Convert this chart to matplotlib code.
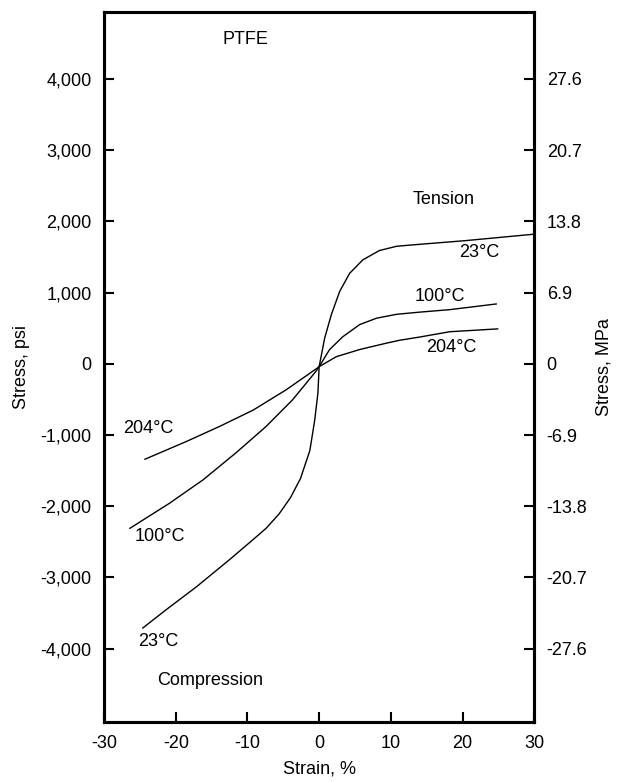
import matplotlib
matplotlib.use('Agg')
import matplotlib.pyplot as plt

plt.rcParams['font.family'] = ['Liberation Sans', 'DejaVu Sans']

# strain (%) vs stress (psi)
strain_23 = [-24.6, -21.3, -17.1, -12.5, -9.0, -7.4, -5.6, -4.0, -2.6, -1.3, -0.63, -0.17, 0,
             0.77, 1.7, 2.86, 4.25, 6.1, 8.4, 10.8, 13.1, 20.5, 30]
stress_23 = [-3710, -3450, -3130, -2750, -2450, -2310, -2110, -1880, -1610, -1220, -800, -410, -40,
             360, 690, 1015, 1270, 1460, 1590, 1650, 1670, 1730, 1820]

strain_100 = [-26.4, -20.9, -16.2, -11.6, -7.4, -3.7, -0.4, 0,
              1.46, 3.3, 5.65, 8.0, 10.8, 14.0, 18.2, 24.7]
stress_100 = [-2310, -1960, -1630, -1250, -880, -505, -100, -40,
              200, 380, 550, 640, 695, 725, 760, 840]

strain_204 = [-24.3, -18.5, -13.9, -9.2, -4.6, -0.4, 0,
              2.4, 5.65, 9.4, 11.2, 14.0, 18.2, 24.9]
stress_204 = [-1340, -1090, -880, -650, -365, -70, -40,
              100, 200, 290, 330, 375, 450, 490]

psi_ticks = [4000, 3000, 2000, 1000, 0, -1000, -2000, -3000, -4000]
psi_labels = ['4,000', '3,000', '2,000', '1,000', '0', '-1,000', '-2,000', '-3,000', '-4,000']
mpa_labels = ['27.6', '20.7', '13.8', '6.9', '0', '-6.9', '-13.8', '-20.7', '-27.6']
x_ticks = [-30, -20, -10, 0, 10, 20, 30]

fs = 13

fig = plt.figure(figsize=(6.27, 7.82), dpi=100)
ax = fig.add_axes([0.166, 0.0767, 0.686, 0.908])

for xs, ys in [(strain_23, stress_23), (strain_100, stress_100), (strain_204, stress_204)]:
    ax.plot(xs, ys, color='black', lw=1.0)

ax.set_xlim(-30, 30)
ax.set_ylim(-5030, 4940)
ax.set_xticks(x_ticks)
ax.set_xticklabels([str(t) for t in x_ticks])
ax.set_yticks(psi_ticks)
ax.set_yticklabels(psi_labels)
ax.tick_params(direction='in', length=7, width=1.5, labelsize=fs, pad=9)
for sp in ax.spines.values():
    sp.set_linewidth(2.2)

ax2 = ax.twinx()
ax2.set_ylim(ax.get_ylim())
ax2.set_yticks(psi_ticks)
ax2.set_yticklabels(mpa_labels)
ax2.tick_params(direction='in', length=7, width=1.5, labelsize=fs, pad=9)
for sp in ax2.spines.values():
    sp.set_linewidth(2.2)

ax.set_xlabel('Strain, %', fontsize=fs)
ax.set_ylabel('Stress, psi', fontsize=fs)
ax2.set_ylabel('Stress, MPa', fontsize=fs)
ax.xaxis.set_label_coords(0.5, -0.054)
ax.yaxis.set_label_coords(-0.172, 0.5)
ax2.yaxis.set_label_coords(1.142, 0.5)

# annotations
ax.text(-10.3, 4550, 'PTFE', fontsize=fs, ha='center', va='center')
ax.text(17.3, 2300, 'Tension', fontsize=fs, ha='center', va='center')
ax.text(22.3, 1560, '23°C', fontsize=fs, ha='center', va='center')
ax.text(16.9, 940, '100°C', fontsize=fs, ha='center', va='center')
ax.text(18.4, 225, '204°C', fontsize=fs, ha='center', va='center')
ax.text(-23.8, -910, '204°C', fontsize=fs, ha='center', va='center')
ax.text(-22.2, -2430, '100°C', fontsize=fs, ha='center', va='center')
ax.text(-22.5, -3900, '23°C', fontsize=fs, ha='center', va='center')
ax.text(-15.2, -4450, 'Compression', fontsize=fs, ha='center', va='center')

fig.savefig('out.png', dpi=100)
